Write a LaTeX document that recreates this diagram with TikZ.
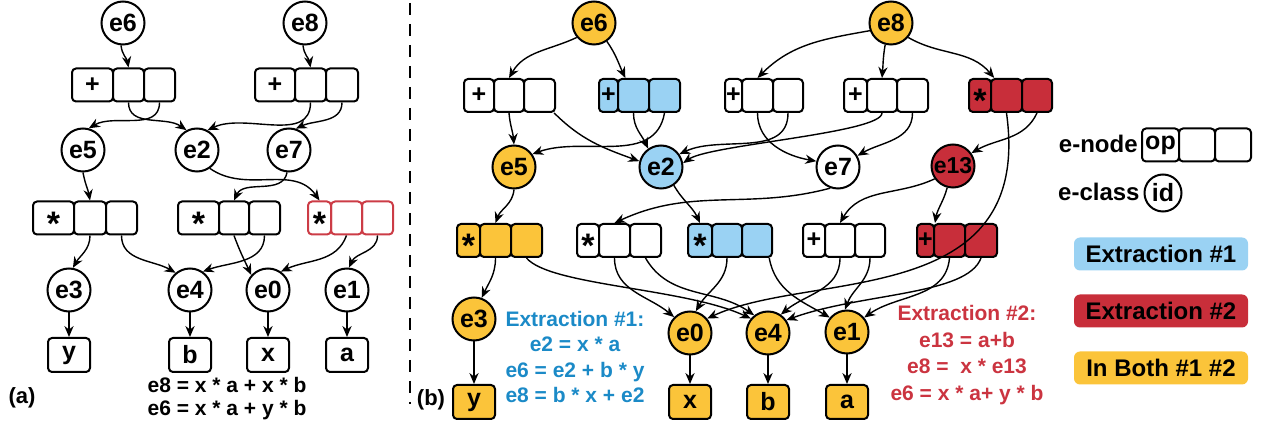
\documentclass[tikz,border=0pt]{standalone}
\usepackage{fontspec}
\setmainfont{Liberation Sans}
\usetikzlibrary{arrows.meta}
\definecolor{cOr}{HTML}{FBC43A}
\definecolor{cBl}{HTML}{9AD2F3}
\definecolor{cRd}{HTML}{C82E3A}
\definecolor{tBl}{HTML}{1B8AC7}
\definecolor{tRd}{HTML}{CB3440}
\definecolor{lRd}{HTML}{CC3C46}
\newcommand\mystar{\smash{\raisebox{-8.6pt}{\fontsize{17}{17}\selectfont *}}}
\newcommand\mkenode[8]{%
 \pgfmathsetmacro\wa{(#4-#3)*0.5}%
 \pgfmathsetmacro\wb{(#5-#4)*0.5}%
 \pgfmathsetmacro\wc{(#6-#5)*0.5}%
 \node[cell,#2,minimum width=\wa pt] (#11) at ({(#3+#4)/2},#7) {#8};
 \node[cell,#2,minimum width=\wb pt] (#12) at ({(#4+#5)/2},#7) {};
 \node[cell,#2,minimum width=\wc pt] (#13) at ({(#5+#6)/2},#7) {};
}
\begin{document}
\begin{tikzpicture}[x=0.5pt,y=0.5pt,
 cell/.style={draw,line width=1pt,rounded corners=2pt,minimum height=16.5pt,inner sep=0pt,font=\fontsize{12.5}{12.5}\selectfont\bfseries},
 ecl/.style={circle,draw,line width=1pt,minimum size=21.5pt,inner sep=0pt,fill=white,font=\fontsize{12.5}{12.5}\selectfont\bfseries},
 leaf/.style={draw,line width=1pt,rounded corners=2pt,minimum width=21pt,minimum height=17pt,inner sep=0pt,fill=white,font=\fontsize{12.5}{12.5}\selectfont\bfseries},
 legbox/.style={rounded corners=3pt,minimum width=87pt,minimum height=16.5pt,inner sep=0pt,font=\fontsize{12}{12}\selectfont\bfseries},
 txt/.style={font=\fontsize{12}{12}\selectfont\bfseries,inner sep=0pt},
 arr/.style={-{Stealth[length=5.5pt,width=4.6pt]},line width=0.7pt}]
\useasboundingbox (0,0) rectangle (1266,-427);
% ---------- panel (a) ----------
\node[ecl] (ae6) at (123,-23) {e6};
\node[ecl] (ae8) at (305,-23) {e8};
\node[ecl] (ae5) at (83,-150) {e5};
\node[ecl] (ae2) at (197,-150) {e2};
\node[ecl] (ae7) at (289,-150) {e7};
\node[ecl] (ae3) at (69,-290) {e3};
\node[ecl] (ae4) at (190,-290) {e4};
\node[ecl] (ae0) at (268,-290) {e0};
\node[ecl] (ae1) at (347,-290) {e1};
\mkenode{aP}{fill=white}{72}{113}{144}{175}{-85}{+}
\mkenode{aQ}{fill=white}{255}{295}{326}{358}{-85}{+}
\mkenode{aR}{fill=white}{33}{74}{106}{137}{-218}{\mystar}
\mkenode{aS}{fill=white}{178}{219}{249}{280}{-218}{\mystar}
\mkenode{aT}{draw=lRd}{308}{331}{362}{393}{-218}{\mystar}
\node[leaf] (ay) at (69,-355) {y};
\node[leaf] (ab) at (190,-355) {b};
\node[leaf] (ax) at (268,-355) {x};
\node[leaf] (aa) at (347,-355) {a};
\node[align=center,inner sep=0pt,font=\fontsize{10.5}{11.5}\selectfont\bfseries] (aeq) at (227,-399) {e8 = x * a + x * b\\e6 = x * a + y * b};
\node[inner sep=0pt,font=\fontsize{11}{11}\selectfont\bfseries] (alab) at (22,-398) {(a)};
\draw[arr] (ae6.265) to[out=-85,in=100] (aP2.north);
\draw[arr] (ae8.265) to[out=-85,in=100] (aQ2.north);
\draw[arr] (aP2.south) to[out=-90,in=145] (ae2.118);
\draw[arr] (aP3.south) to[out=-90,in=30] (ae5.75);
\draw[arr] (aQ2.south) to[out=-90,in=25] (ae2.62);
\draw[arr] (aQ3.south) to[out=-90,in=25] (ae7.72);
\draw[arr] (ae5.south) to[out=-80,in=100] (aR2.north);
\draw[arr] (ae2.-55) to[out=-35,in=125] (aT1.north);
\draw[arr] (ae7.-95) to[out=-100,in=65] (aS2.north);
\draw[arr] (aR2.south) to[out=-90,in=60] (ae3.80);
\draw[arr] (aR3.south) to[out=-90,in=150] (ae4.130);
\draw[arr] (aS2.south) to[out=-70,in=115] (ae0.138);
\draw[arr] (aS3.south) to[out=-90,in=20] (ae4.55);
\draw[arr] (aT2.south) to[out=-110,in=25] (ae0.55);
\draw[arr] (aT3.south) to[out=-90,in=65] (ae1.85);
\draw[arr] (ae3.south) -- (ay.north);
\draw[arr] (ae4.south) -- (ab.north);
\draw[arr] (ae0.south) -- (ax.north);
\draw[arr] (ae1.south) -- (aa.north);
% separator
\draw[line width=1pt,dash pattern=on 6pt off 4.5pt] (410,-3) -- (410,-404);
% ---------- panel (b) ----------
\node[ecl,fill=cOr] (be6) at (594,-23) {e6};
\node[ecl,fill=cOr] (be8) at (891,-23) {e8};
\node[ecl,fill=cOr] (be5) at (514,-167) {e5};
\node[ecl,fill=cBl] (be2) at (661,-167) {e2};
\node[ecl] (be7) at (838,-167) {e7};
\node[ecl,fill=cRd,font=\fontsize{11.5}{11.5}\selectfont\bfseries] (be13) at (953,-166) {e13};
\node[ecl,fill=cOr] (be3) at (474,-319) {e3};
\node[ecl,fill=cOr] (be0) at (690,-333) {e0};
\node[ecl,fill=cOr] (be4) at (768,-333) {e4};
\node[ecl,fill=cOr] (be1) at (847,-332) {e1};
\mkenode{bA}{fill=white}{464}{494}{524}{555}{-95.5}{+}
\mkenode{bB}{fill=cBl}{599}{618}{649}{680}{-95.5}{+}
\mkenode{bC}{fill=white}{725}{742}{773}{803}{-95.5}{+}
\mkenode{bD}{fill=white}{844}{867}{897}{928}{-95.5}{+}
\mkenode{bE}{fill=cRd}{969}{991}{1022}{1052}{-95.5}{\mystar}
\mkenode{bF}{fill=cOr}{457}{480}{511}{542}{-240.5}{\mystar}
\mkenode{bG}{fill=white}{577}{599}{630}{661}{-240.5}{\mystar}
\mkenode{bH}{fill=cBl}{688}{712}{742}{772}{-240.5}{\mystar}
\mkenode{bI}{fill=white}{803}{825}{855}{885}{-240.5}{+}
\mkenode{bJ}{fill=cRd}{917}{934}{965}{997}{-240.5}{+}
\node[leaf,fill=cOr] (by) at (474,-402) {y};
\node[leaf,fill=cOr] (bx) at (690,-402) {x};
\node[leaf,fill=cOr] (bb) at (768,-402) {b};
\node[leaf,fill=cOr] (ba) at (847,-402) {a};
\node[inner sep=0pt,font=\fontsize{11}{11}\selectfont\bfseries] (blab) at (431,-400) {(b)};
\node[align=center,inner sep=0pt,text=tBl,font=\fontsize{10.5}{12.6}\selectfont\bfseries] (ex1) at (575,-357) {Extraction \#1:\\e2 = x * a\\e6 = e2 + b * y\\e8 = b * x + e2};
\node[align=center,inner sep=0pt,text=tRd,font=\fontsize{10.5}{13.3}\selectfont\bfseries] (ex2) at (967,-355) {Extraction \#2:\\e13 = a+b\\e8 = \ x * e13\\e6 = x * a+ y * b};
\draw[arr] (be6.220) to[out=205,in=60] (bA2.north);
\draw[arr] (be6.-55) to[out=-55,in=115] (bB2.115);
\draw[arr] (be8.200) to[out=190,in=45] (bC2.north);
\draw[arr] (be8.255) to[out=-100,in=85] (bD2.north);
\draw[arr] (be8.-40) to[out=-30,in=130] (bE2.125);
\draw[arr] (bA2.south) to[out=-85,in=95] (be5.north);
\draw[arr] (bA3.-50) to[out=-45,in=160] (be2.165);
\draw[arr] (bB2.south) to[out=-90,in=115] (be2.125);
\draw[arr] (bB3.south) to[out=-100,in=20] (be5.35);
\draw[arr] (bC2.south) to[out=-90,in=170] (be7.165);
\draw[arr] (bC3.south) to[out=-90,in=25] (be2.35);
\draw[arr] (bD2.south) to[out=-90,in=35,out looseness=0.25,in looseness=0.4] (be2.10);
\draw[arr] (bD3.south) to[out=-90,in=30] (be7.30);
\draw[arr] (bE3.south) to[out=-115,in=30] (be13.35);
\draw[arr] (bE2.south) to[out=-82,in=25,out looseness=1.4,in looseness=0.8] (be0.40);
\draw[arr] (be5.south) to[out=-95,in=70] (bF2.north);
\draw[arr] (be7.-110) to[out=-165,in=25] (bG2.north);
\draw[arr] (be2.-55) to[out=-60,in=115] (bH1.north);
\draw[arr] (be13.-145) to[out=-155,in=60] (bI2.north);
\draw[arr] (be13.-105) to[out=-105,in=80] (bJ1.north east);
\draw[arr] (bF2.south) to[out=-90,in=65] (be3.70);
\draw[arr] (bF3.south) to[out=-50,in=155,out looseness=0.4,in looseness=0.8] (be4.140);
\draw[arr] (bG2.south) to[out=-90,in=140] (be0.135);
\draw[arr] (bG3.south) to[out=-60,in=145] (be4.128);
\draw[arr] (bH2.south) to[out=-90,in=60] (be0.75);
\draw[arr] (bH3.-55) to[out=-80,in=150] (be1.140);
\draw[arr] (bI2.south) to[out=-90,in=40] (be4.55);
\draw[arr] (bI3.south) to[out=-90,in=70] (be1.95);
\draw[arr] (bJ2.south) to[out=-95,in=35] (be1.40);
\draw[arr] (bJ3.south) to[out=-110,in=20,out looseness=0.5] (be4.35);
\draw[arr] (be3.south) -- (by.north);
\draw[arr] (be0.south) -- (bx.north);
\draw[arr] (be4.south) -- (bb.north);
\draw[arr] (be1.south) -- (ba.north);
% ---------- legend ----------
\mkenode{gN}{fill=white}{1142}{1179}{1215}{1251}{-145}{op}
\node[txt,anchor=east] (gtn) at (1138,-144) {e-node};
\node[ecl,minimum size=18.5pt] (gid) at (1163,-193) {id};
\node[txt,anchor=east] (gtc) at (1140,-192) {e-class};
\node[legbox,fill=cBl] (lg1) at (1161,-254) {Extraction \#1};
\node[legbox,fill=cRd] (lg2) at (1161,-311) {Extraction \#2};
\node[legbox,fill=cOr] (lg3) at (1161,-368) {In Both \#1 \#2};
\end{tikzpicture}
\end{document}
